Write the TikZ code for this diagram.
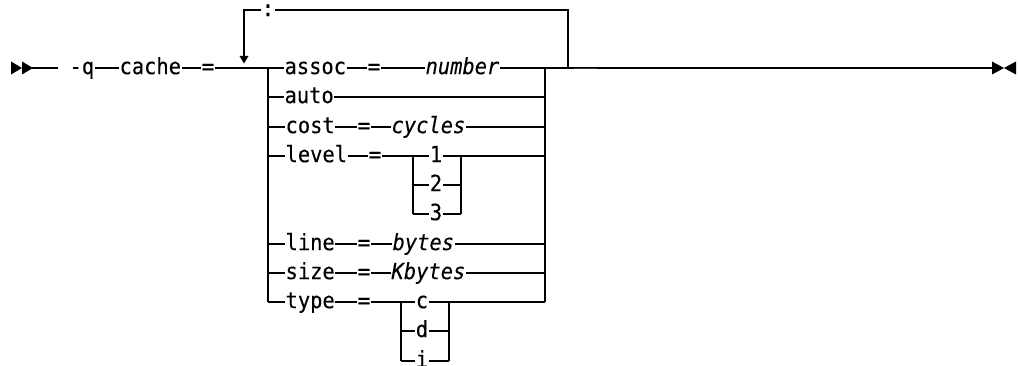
\documentclass[tikz,border=0pt]{standalone}
\usepackage{fontspec}
\setmonofont{DejaVu Sans Mono}[FakeBold=0.2]
\newcommand\tallt[1]{\scalebox{1}[1.1]{#1}}
\begin{document}
\begin{tikzpicture}[x=1pt,y=-1pt,line width=1.2pt,
  t/.style={font=\fontsize{20.4}{24}\selectfont\ttfamily, inner sep=0pt, text height=14.3pt, text depth=2pt},
  v/.style={t, font=\fontsize{20.4}{24}\selectfont\ttfamily\itshape},
  tipfill/.style={fill=black, draw=none}]
\useasboundingbox (0,0) rectangle (1018,366);
\clip (0,0) rectangle (1018,366);

% start and end marks
\fill[tipfill] (11,61.5) -- (22,68) -- (11,74.5) -- cycle;
\fill[tipfill] (22,61.5) -- (33,68) -- (22,74.5) -- cycle;
\fill[tipfill] (992,61.5) -- (1004,68) -- (992,74.5) -- cycle;
\fill[tipfill] (1016,61.5) -- (1004,68) -- (1016,74.5) -- cycle;
\coordinate (s0) at (32,68);
\coordinate (s1) at (58,68);
\coordinate (e0) at (993,68);

% main line items
\node[t, anchor=west] (q) at (69,68) {\tallt{-q}};
\node[t, anchor=west] (cache) at (119,68) {\tallt{cache}};
\node[t] (eq0) at (208,68) {\tallt{=}};

% choice block frame
\coordinate (L0) at (268,68);
\coordinate (L8) at (268,302);
\coordinate (R0) at (545,68);
\coordinate (R8) at (545,302);
\coordinate (J) at (568,68);

\draw (s0) -- (s1);
\draw (q) -- (cache);
\draw (cache) -- (eq0);
\draw (eq0) -- (L0);
\draw (L0) -- (L8);
\draw (R0) -- (R8);
\draw (R0) -- (e0);
\draw[line width=1.8pt, black!80] (574,68.6) -- (597,68.6);

% repeat loop
\node[t] (sep) at (268,10) {\tallt{:}};
\coordinate (T0) at (244,10);
\coordinate (T1) at (244,57);
\coordinate (T2) at (568,10);
\draw (J) -- (T2) -- (sep.east);
\draw (sep.west) -- (T0) -- (T1);
\fill[tipfill] (239.5,56) -- (248.5,56) -- (244,63.5) -- cycle;

% row 0: assoc = number
\node[t, anchor=west] (assoc) at (284,68) {\tallt{assoc}};
\node[t] (eq1) at (374,68) {\tallt{=}};
\node[v, anchor=west] (number) at (425,68) {\tallt{number}};
\draw (L0) -- (assoc);
\draw (assoc) -- (eq1);
\draw (eq1) -- (number);
\draw (number) -- (R0);

% row 1: auto
\coordinate (L1) at (268,97);
\coordinate (R1) at (545,97);
\node[t, anchor=west] (auto) at (284,97) {\tallt{auto}};
\draw (L1) -- (auto);
\draw (auto) -- (R1);

% row 2: cost = cycles
\coordinate (L2) at (268,127);
\coordinate (R2) at (545,127);
\node[t, anchor=west] (cost) at (285,127) {\tallt{cost}};
\node[t] (eq2) at (364,127) {\tallt{=}};
\node[v, anchor=west] (cycles) at (391,127) {\tallt{cycles}};
\draw (L2) -- (cost);
\draw (cost) -- (eq2);
\draw (eq2) -- (cycles);
\draw (cycles) -- (R2);

% row 3: level = 1|2|3
\coordinate (L3) at (268,156);
\coordinate (R3) at (545,156);
\node[t, anchor=west] (level) at (285,156) {\tallt{level}};
\node[t] (eq3) at (375,156) {\tallt{=}};
\node[t] (one) at (436,156) {\tallt{1}};
\node[t] (two) at (436,185) {\tallt{2}};
\node[t] (three) at (436,214) {\tallt{3}};
\coordinate (la) at (413,156);
\coordinate (lb) at (413,185);
\coordinate (lc) at (413,214);
\coordinate (ra) at (461,156);
\coordinate (rb) at (461,185);
\coordinate (rc) at (461,214);
\draw (L3) -- (level);
\draw (level) -- (eq3);
\draw (eq3) -- (one);
\draw (one) -- (ra) -- (R3);
\draw (la) -- (lc);
\draw (ra) -- (rc);
\draw (lb) -- (two);
\draw (two) -- (rb);
\draw (lc) -- (three);
\draw (three) -- (rc);

% row 6: line = bytes
\coordinate (L6) at (268,244);
\coordinate (R6) at (545,244);
\node[t, anchor=west] (line) at (285,244) {\tallt{line}};
\node[t] (eq6) at (364,244) {\tallt{=}};
\node[v, anchor=west] (bytes) at (392,244) {\tallt{bytes}};
\draw (L6) -- (line);
\draw (line) -- (eq6);
\draw (eq6) -- (bytes);
\draw (bytes) -- (R6);

% row 7: size = Kbytes
\coordinate (L7) at (268,273);
\coordinate (R7) at (545,273);
\node[t, anchor=west] (size) at (285,273) {\tallt{size}};
\node[t] (eq7) at (364,273) {\tallt{=}};
\node[v, anchor=west] (kbytes) at (391,273) {\tallt{Kbytes}};
\draw (L7) -- (size);
\draw (size) -- (eq7);
\draw (eq7) -- (kbytes);
\draw (kbytes) -- (R7);

% row 8: type = c|d|i
\node[t, anchor=west] (type) at (285,302) {\tallt{type}};
\node[t] (eq8) at (364,302) {\tallt{=}};
\node[t] (cc) at (422,302) {\tallt{c}};
\node[t] (dd) at (422,331) {\tallt{d}};
\node[t] (ii) at (422,361) {\tallt{i}};
\coordinate (ta) at (401,302);
\coordinate (tb) at (401,331);
\coordinate (tc) at (401,361);
\coordinate (ua) at (449,302);
\coordinate (ub) at (449,331);
\coordinate (uc) at (449,361);
\draw (L8) -- (type);
\draw (type) -- (eq8);
\draw (eq8) -- (cc);
\draw (cc) -- (ua) -- (R8);
\draw (ta) -- (tc);
\draw (ua) -- (uc);
\draw (tb) -- (dd);
\draw (dd) -- (ub);
\draw (tc) -- (ii);
\draw (ii) -- (uc);
\end{tikzpicture}
\end{document}
